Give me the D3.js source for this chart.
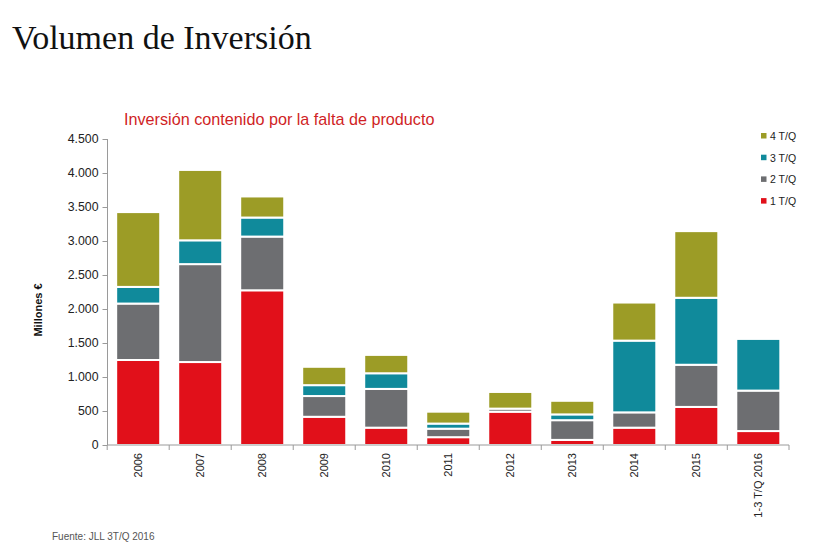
<!DOCTYPE html>
<html>
<head>
<meta charset="utf-8">
<script src="https://cdn.jsdelivr.net/npm/d3@7"></script>
<style>
  html, body { margin: 0; padding: 0; background: #fff; }
  svg { display: block; }
</style>
</head>
<body>
<svg id="chart" width="831" height="550"></svg>
<script>
// ---- data ----
const categories = ["2006","2007","2008","2009","2010","2011","2012","2013","2014","2015","1-3 T/Q 2016"];
const q1 = [1250, 1220, 2275, 415, 255, 115, 490, 75, 255, 560, 205];
const q2 = [830, 1440, 790, 305, 570, 125, 45, 290, 225, 620, 595];
const q3 = [245, 350, 280, 160, 230, 75, 0, 85, 1055, 985, 760];
const q4 = [1100, 1035, 310, 270, 270, 175, 245, 200, 560, 980, 0];
const seriesNames = ["1 T/Q", "2 T/Q", "3 T/Q", "4 T/Q"];
const yTicks = [0, 500, 1000, 1500, 2000, 2500, 3000, 3500, 4000, 4500];

const colors = { "1 T/Q": "#e1101a", "2 T/Q": "#6d6e71", "3 T/Q": "#108a9b", "4 T/Q": "#9c9c26" };

const rows = categories.map((c, i) => ({ cat: c, "1 T/Q": q1[i], "2 T/Q": q2[i], "3 T/Q": q3[i], "4 T/Q": q4[i] }));

const svg = d3.select("#chart");

const x = d3.scaleBand().domain(categories).range([107.5, 789]).paddingInner(0.29).paddingOuter(0.14);
const y = d3.scaleLinear().domain([0, 4500]).range([445, 139]);

// title
svg.append("text").attr("x", 12).attr("y", 49)
  .attr("font-family", "'Liberation Serif', 'Times New Roman', serif")
  .attr("font-size", 34).attr("fill", "#111").text("Volumen de Inversión");

svg.append("text").attr("x", 124).attr("y", 125)
  .attr("font-family", "'Liberation Sans', Arial, sans-serif")
  .attr("font-size", 16.2).attr("fill", "#d01f26").text("Inversión contenido por la falta de producto");

// bars
const stack = d3.stack().keys(seriesNames)(rows);
svg.append("g").selectAll("g").data(stack).join("g")
  .attr("fill", d => colors[d.key])
  .selectAll("rect").data(d => d.filter(p => p[1] - p[0] > 0)).join("rect")
  .attr("x", d => x(d.data.cat))
  .attr("width", x.bandwidth())
  .attr("y", d => y(d[1]))
  .attr("height", d => y(d[0]) - y(d[1]))
  .attr("stroke", "#fff").attr("stroke-width", 2);

// y axis
const yAxis = d3.axisLeft(y).tickValues(yTicks).tickSize(5).tickPadding(4)
  .tickFormat(d => d3.format(",")(d).replace(/,/g, "."));
const gy = svg.append("g").attr("transform", "translate(107.5,0)").call(yAxis);
gy.select(".domain").attr("stroke", "#9a9a9a").attr("d", `M0,${y(4500)}V${y(0)}`);
gy.selectAll(".tick line").attr("stroke", "#9a9a9a");
gy.selectAll(".tick text").attr("font-family", "'Liberation Sans', Arial, sans-serif")
  .attr("font-size", 12.3).attr("fill", "#222");

// x axis
const step = x.step();
const gx = svg.append("g");
gx.append("line").attr("x1", x.range()[0]).attr("x2", x.range()[1])
  .attr("y1", y(0)).attr("y2", y(0)).attr("stroke", "#9a9a9a");
const boundaries = categories.map(c => x(c) - step * x.paddingInner() / 2);
boundaries.push(x.range()[1]);
gx.selectAll("line.tk").data(boundaries).join("line").attr("class", "tk")
  .attr("x1", d => d).attr("x2", d => d).attr("y1", y(0)).attr("y2", y(0) + 5)
  .attr("stroke", "#9a9a9a");
gx.selectAll("text").data(categories).join("text")
  .attr("transform", d => `translate(${x(d) + x.bandwidth() / 2 + 4},${y(0) + 8}) rotate(-90)`)
  .attr("text-anchor", "end")
  .attr("font-family", "'Liberation Sans', Arial, sans-serif")
  .attr("font-size", 11).attr("fill", "#222").text(d => d);

// y axis title
svg.append("text").attr("transform", "translate(42,310) rotate(-90)")
  .attr("text-anchor", "middle")
  .attr("font-family", "'Liberation Sans', Arial, sans-serif")
  .attr("font-size", 11).attr("font-weight", "bold").attr("fill", "#111").text("Millones €");

// legend
const legendOrder = ["4 T/Q", "3 T/Q", "2 T/Q", "1 T/Q"];
const lg = svg.append("g").selectAll("g").data(legendOrder).join("g")
  .attr("transform", (d, i) => `translate(761,${136 + i * 21.7})`);
lg.append("rect").attr("x", 0).attr("y", -3).attr("width", 5.5).attr("height", 5.5).attr("fill", d => colors[d]);
lg.append("text").attr("x", 9).attr("y", 3.8)
  .attr("font-family", "'Liberation Sans', Arial, sans-serif")
  .attr("font-size", 10.5).attr("fill", "#222").text(d => d);

// footer
svg.append("text").attr("x", 52).attr("y", 540)
  .attr("font-family", "'Liberation Sans', Arial, sans-serif")
  .attr("font-size", 10).attr("fill", "#555").text("Fuente: JLL 3T/Q 2016");
</script>
</body>
</html>
